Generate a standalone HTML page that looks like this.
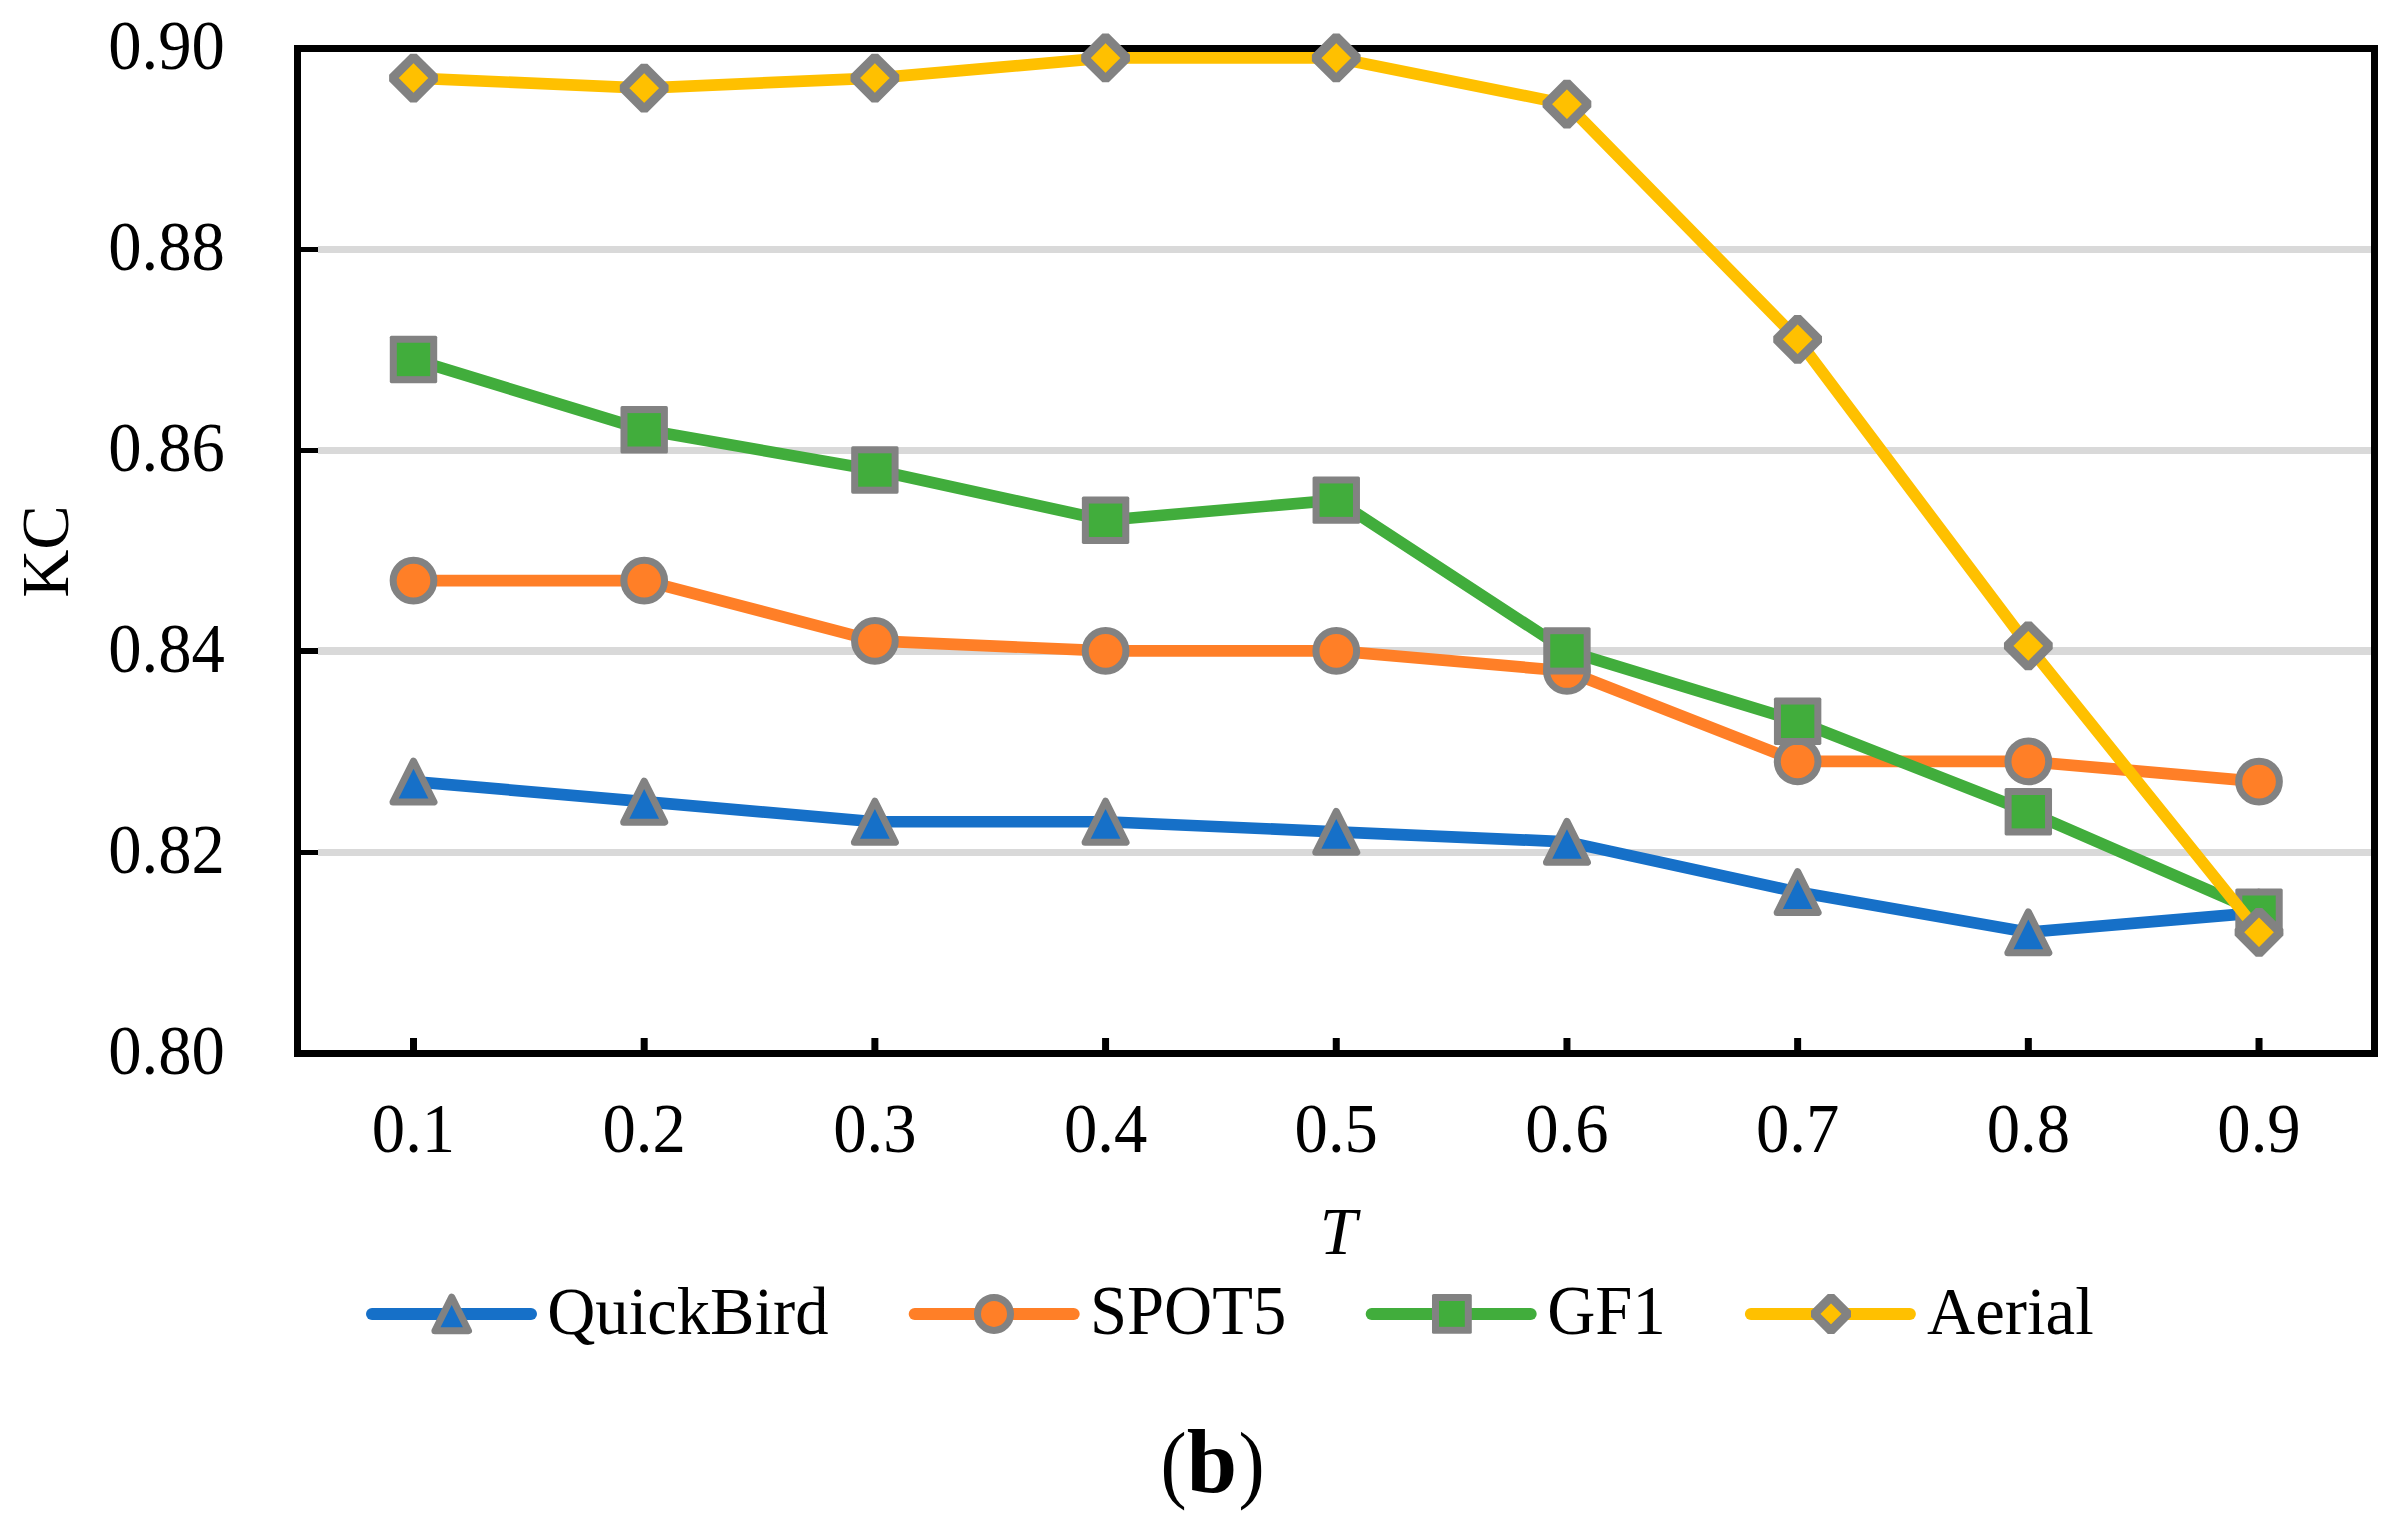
<!DOCTYPE html>
<html lang="en"><head><meta charset="utf-8"><title>KC vs T</title>
<style>
html,body{margin:0;padding:0;background:#fff;}
body{width:2397px;height:1532px;overflow:hidden;}
svg{display:block;}
text{font-family:"Liberation Serif",serif;fill:#000;font-kerning:none;}
.t{font-size:66.67px;}
.cap{font-size:91.7px;}
</style></head><body>
<svg width="2397" height="1532" viewBox="0 0 2397 1532">
<rect x="0" y="0" width="2397" height="1532" fill="#fff"/>
<g stroke="#D9D9D9" stroke-width="7">
<line x1="318" y1="249.50" x2="2371" y2="249.50" stroke-width="7"/>
<line x1="318" y1="450.50" x2="2371" y2="450.50" stroke-width="7"/>
<line x1="318" y1="651.00" x2="2371" y2="651.00" stroke-width="8"/>
<line x1="318" y1="852.50" x2="2371" y2="852.50" stroke-width="7"/>
</g>
<g stroke="#000">
<line x1="300" y1="249.50" x2="318" y2="249.50" stroke-width="5"/>
<line x1="300" y1="450.50" x2="318" y2="450.50" stroke-width="5"/>
<line x1="300" y1="651.00" x2="318" y2="651.00" stroke-width="6"/>
<line x1="300" y1="852.50" x2="318" y2="852.50" stroke-width="5"/>
<line x1="413.50" y1="1038" x2="413.50" y2="1051" stroke-width="7"/>
<line x1="644.19" y1="1038" x2="644.19" y2="1051" stroke-width="7"/>
<line x1="874.88" y1="1038" x2="874.88" y2="1051" stroke-width="7"/>
<line x1="1105.57" y1="1038" x2="1105.57" y2="1051" stroke-width="7"/>
<line x1="1336.26" y1="1038" x2="1336.26" y2="1051" stroke-width="7"/>
<line x1="1566.95" y1="1038" x2="1566.95" y2="1051" stroke-width="7"/>
<line x1="1797.64" y1="1038" x2="1797.64" y2="1051" stroke-width="7"/>
<line x1="2028.33" y1="1038" x2="2028.33" y2="1051" stroke-width="7"/>
<line x1="2259.02" y1="1038" x2="2259.02" y2="1051" stroke-width="7"/>
</g>
<rect x="297.5" y="48.5" width="2077" height="1005" fill="none" stroke="#000" stroke-width="7"/>
<g transform="translate(0 -0.6)">
<polyline points="413.50,782.15 644.19,802.25 874.88,822.35 1105.57,822.35 1336.26,832.40 1566.95,842.45 1797.64,892.70 2028.33,932.90 2259.02,913.30" fill="none" stroke="#1670C8" stroke-width="11.7" stroke-linejoin="round" stroke-linecap="round"/>
<path d="M413.50 761.65L434.00 802.65L393.00 802.65Z" fill="#1670C8" stroke="#828282" stroke-width="7" stroke-linejoin="round"/>
<path d="M644.19 781.75L664.69 822.75L623.69 822.75Z" fill="#1670C8" stroke="#828282" stroke-width="7" stroke-linejoin="round"/>
<path d="M874.88 801.85L895.38 842.85L854.38 842.85Z" fill="#1670C8" stroke="#828282" stroke-width="7" stroke-linejoin="round"/>
<path d="M1105.57 801.85L1126.07 842.85L1085.07 842.85Z" fill="#1670C8" stroke="#828282" stroke-width="7" stroke-linejoin="round"/>
<path d="M1336.26 811.90L1356.76 852.90L1315.76 852.90Z" fill="#1670C8" stroke="#828282" stroke-width="7" stroke-linejoin="round"/>
<path d="M1566.95 821.95L1587.45 862.95L1546.45 862.95Z" fill="#1670C8" stroke="#828282" stroke-width="7" stroke-linejoin="round"/>
<path d="M1797.64 872.20L1818.14 913.20L1777.14 913.20Z" fill="#1670C8" stroke="#828282" stroke-width="7" stroke-linejoin="round"/>
<path d="M2028.33 912.40L2048.83 953.40L2007.83 953.40Z" fill="#1670C8" stroke="#828282" stroke-width="7" stroke-linejoin="round"/>
<path d="M2259.02 892.80L2279.52 933.80L2238.52 933.80Z" fill="#1670C8" stroke="#828282" stroke-width="7" stroke-linejoin="round"/>
<polyline points="413.50,581.15 644.19,581.15 874.88,641.45 1105.57,651.50 1336.26,651.50 1566.95,671.60 1797.64,762.05 2028.33,762.05 2259.02,782.15" fill="none" stroke="#FF7F27" stroke-width="11.7" stroke-linejoin="round" stroke-linecap="round"/>
<circle cx="413.50" cy="581.15" r="20.35" fill="#FF7F27" stroke="#828282" stroke-width="7"/>
<circle cx="644.19" cy="581.15" r="20.35" fill="#FF7F27" stroke="#828282" stroke-width="7"/>
<circle cx="874.88" cy="641.45" r="20.35" fill="#FF7F27" stroke="#828282" stroke-width="7"/>
<circle cx="1105.57" cy="651.50" r="20.35" fill="#FF7F27" stroke="#828282" stroke-width="7"/>
<circle cx="1336.26" cy="651.50" r="20.35" fill="#FF7F27" stroke="#828282" stroke-width="7"/>
<circle cx="1566.95" cy="671.60" r="20.35" fill="#FF7F27" stroke="#828282" stroke-width="7"/>
<circle cx="1797.64" cy="762.05" r="20.35" fill="#FF7F27" stroke="#828282" stroke-width="7"/>
<circle cx="2028.33" cy="762.05" r="20.35" fill="#FF7F27" stroke="#828282" stroke-width="7"/>
<circle cx="2259.02" cy="782.15" r="20.35" fill="#FF7F27" stroke="#828282" stroke-width="7"/>
<polyline points="413.50,360.05 644.19,430.40 874.88,470.60 1105.57,520.85 1336.26,500.75 1566.95,651.50 1797.64,721.85 2028.33,812.30 2259.02,912.80" fill="none" stroke="#41AD3C" stroke-width="11.7" stroke-linejoin="round" stroke-linecap="round"/>
<rect x="389.80" y="336.35" width="47.40" height="47.40" rx="1.6" fill="#828282"/><rect x="396.80" y="343.35" width="33.40" height="33.40" fill="#41AD3C"/>
<rect x="620.49" y="406.70" width="47.40" height="47.40" rx="1.6" fill="#828282"/><rect x="627.49" y="413.70" width="33.40" height="33.40" fill="#41AD3C"/>
<rect x="851.18" y="446.90" width="47.40" height="47.40" rx="1.6" fill="#828282"/><rect x="858.18" y="453.90" width="33.40" height="33.40" fill="#41AD3C"/>
<rect x="1081.87" y="497.15" width="47.40" height="47.40" rx="1.6" fill="#828282"/><rect x="1088.87" y="504.15" width="33.40" height="33.40" fill="#41AD3C"/>
<rect x="1312.56" y="477.05" width="47.40" height="47.40" rx="1.6" fill="#828282"/><rect x="1319.56" y="484.05" width="33.40" height="33.40" fill="#41AD3C"/>
<rect x="1543.25" y="627.80" width="47.40" height="47.40" rx="1.6" fill="#828282"/><rect x="1550.25" y="634.80" width="33.40" height="33.40" fill="#41AD3C"/>
<rect x="1773.94" y="698.15" width="47.40" height="47.40" rx="1.6" fill="#828282"/><rect x="1780.94" y="705.15" width="33.40" height="33.40" fill="#41AD3C"/>
<rect x="2004.63" y="788.60" width="47.40" height="47.40" rx="1.6" fill="#828282"/><rect x="2011.63" y="795.60" width="33.40" height="33.40" fill="#41AD3C"/>
<rect x="2235.32" y="889.10" width="47.40" height="47.40" rx="1.6" fill="#828282"/><rect x="2242.32" y="896.10" width="33.40" height="33.40" fill="#41AD3C"/>
<polyline points="413.50,78.65 644.19,88.70 874.88,78.65 1105.57,58.55 1336.26,58.55 1566.95,104.78 1797.64,339.95 2028.33,646.47 2259.02,932.90" fill="none" stroke="#FFC000" stroke-width="11.7" stroke-linejoin="round" stroke-linecap="round"/>
<path d="M413.50 57.45L434.70 78.65L413.50 99.85L392.30 78.65Z" fill="#FFC000" stroke="#828282" stroke-width="9" stroke-linejoin="bevel"/>
<path d="M644.19 67.50L665.39 88.70L644.19 109.90L622.99 88.70Z" fill="#FFC000" stroke="#828282" stroke-width="9" stroke-linejoin="bevel"/>
<path d="M874.88 57.45L896.08 78.65L874.88 99.85L853.68 78.65Z" fill="#FFC000" stroke="#828282" stroke-width="9" stroke-linejoin="bevel"/>
<path d="M1105.57 37.35L1126.77 58.55L1105.57 79.75L1084.37 58.55Z" fill="#FFC000" stroke="#828282" stroke-width="9" stroke-linejoin="bevel"/>
<path d="M1336.26 37.35L1357.46 58.55L1336.26 79.75L1315.06 58.55Z" fill="#FFC000" stroke="#828282" stroke-width="9" stroke-linejoin="bevel"/>
<path d="M1566.95 83.58L1588.15 104.78L1566.95 125.98L1545.75 104.78Z" fill="#FFC000" stroke="#828282" stroke-width="9" stroke-linejoin="bevel"/>
<path d="M1797.64 318.75L1818.84 339.95L1797.64 361.15L1776.44 339.95Z" fill="#FFC000" stroke="#828282" stroke-width="9" stroke-linejoin="bevel"/>
<path d="M2028.33 625.27L2049.53 646.47L2028.33 667.67L2007.13 646.47Z" fill="#FFC000" stroke="#828282" stroke-width="9" stroke-linejoin="bevel"/>
<path d="M2259.02 911.70L2280.22 932.90L2259.02 954.10L2237.82 932.90Z" fill="#FFC000" stroke="#828282" stroke-width="9" stroke-linejoin="bevel"/>
</g>
<g class="t" text-anchor="end">
<text transform="translate(224.8 69.10) scale(1 1.045)">0.90</text>
<text transform="translate(224.8 270.10) scale(1 1.045)">0.88</text>
<text transform="translate(224.8 471.10) scale(1 1.045)">0.86</text>
<text transform="translate(224.8 672.10) scale(1 1.045)">0.84</text>
<text transform="translate(224.8 873.10) scale(1 1.045)">0.82</text>
<text transform="translate(224.8 1074.10) scale(1 1.045)">0.80</text>
</g>
<g class="t" text-anchor="middle">
<text transform="translate(413.50 1152.3) scale(1 1.045)">0.1</text>
<text transform="translate(644.19 1152.3) scale(1 1.045)">0.2</text>
<text transform="translate(874.88 1152.3) scale(1 1.045)">0.3</text>
<text transform="translate(1105.57 1152.3) scale(1 1.045)">0.4</text>
<text transform="translate(1336.26 1152.3) scale(1 1.045)">0.5</text>
<text transform="translate(1566.95 1152.3) scale(1 1.045)">0.6</text>
<text transform="translate(1797.64 1152.3) scale(1 1.045)">0.7</text>
<text transform="translate(2028.33 1152.3) scale(1 1.045)">0.8</text>
<text transform="translate(2259.02 1152.3) scale(1 1.045)">0.9</text>
</g>
<text class="t" text-anchor="middle" transform="translate(67.9 551.5) rotate(-90) scale(1 1.03)">KC</text>
<text class="t" text-anchor="middle" transform="translate(1338.3 1253.6) scale(1 1.03)" font-style="italic">T</text>
<line x1="372" y1="1314" x2="531" y2="1314" stroke="#1670C8" stroke-width="12" stroke-linecap="round"/>
<path d="M451.70 1297.10L468.50 1330.70L434.90 1330.70Z" fill="#1670C8" stroke="#828282" stroke-width="7" stroke-linejoin="round"/>
<text class="t" transform="translate(547.2 1334.2) scale(1 1.005)">QuickBird</text>
<line x1="914.7" y1="1314" x2="1073.7" y2="1314" stroke="#FF7F27" stroke-width="12" stroke-linecap="round"/>
<circle cx="994.00" cy="1313.90" r="16.50" fill="#FF7F27" stroke="#828282" stroke-width="7"/>
<text class="t" transform="translate(1089.9 1334.2) scale(1 1.033)">SPOT5</text>
<line x1="1371.7" y1="1314" x2="1530.7" y2="1314" stroke="#41AD3C" stroke-width="12" stroke-linecap="round"/>
<rect x="1432.00" y="1294.00" width="39.80" height="39.80" rx="1.6" fill="#828282"/><rect x="1439.00" y="1301.00" width="25.80" height="25.80" fill="#41AD3C"/>
<text class="t" transform="translate(1547.2 1334.2) scale(1 1.033)">GF1</text>
<line x1="1750.9" y1="1314" x2="1909.9" y2="1314" stroke="#FFC000" stroke-width="12" stroke-linecap="round"/>
<path d="M1831.00 1297.10L1847.80 1313.90L1831.00 1330.70L1814.20 1313.90Z" fill="#FFC000" stroke="#828282" stroke-width="9" stroke-linejoin="bevel"/>
<text class="t" transform="translate(1927.1 1334.2) scale(1 1.005)">Aerial</text>
<text transform="translate(1160.45 1491.7) scale(0.91 1)" font-size="86.2">(</text>
<text x="1186.75" y="1492" font-size="90.5" font-weight="bold">b</text>
<text transform="translate(1238.5 1491.7) scale(0.91 1)" font-size="86.2">)</text>
</svg></body></html>
